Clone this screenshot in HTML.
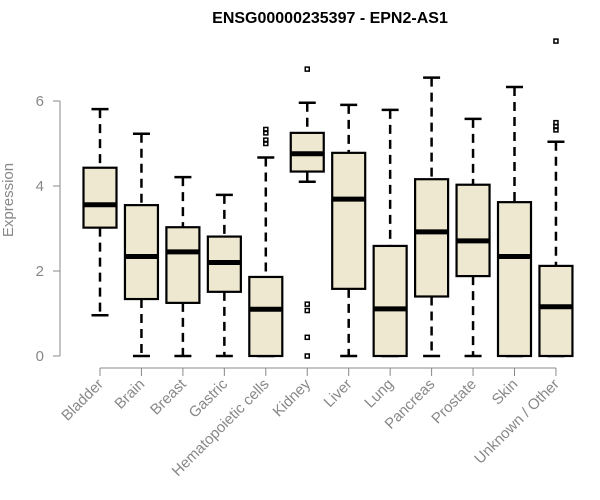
<!DOCTYPE html>
<html><head><meta charset="utf-8"><style>
body{margin:0;background:#fff}
svg{display:block;font-family:"Liberation Sans",Arial,sans-serif}
</style></head><body>
<svg id="chart" width="600" height="500">
<text x="330" y="23" text-anchor="middle" font-weight="bold" font-size="16">ENSG00000235397 - EPN2-AS1</text>
<text transform="translate(13,200) rotate(-90)" text-anchor="middle" font-size="15" fill="#888">Expression</text>
<g id="yaxis"></g>
<g id="xaxis"></g>
<g id="boxes"></g>
</svg>
<script>
const categories=["Bladder","Brain","Breast","Gastric","Hematopoietic cells","Kidney","Liver","Lung","Pancreas","Prostate","Skin","Unknown / Other"];
const whiskerLow=[0.96,0,0,0,0,4.1,0,0,0,0,0,0];
const q1=[3.02,1.34,1.25,1.51,0,4.34,1.58,0,1.4,1.88,0,0];
const medians=[3.56,2.34,2.45,2.2,1.1,4.76,3.69,1.11,2.92,2.71,2.34,1.16];
const q3=[4.43,3.55,3.03,2.81,1.86,5.25,4.78,2.59,4.16,4.03,3.62,2.12];
const whiskerHigh=[5.81,5.23,4.21,3.79,4.67,5.96,5.91,5.79,6.55,5.58,6.33,5.04];
const outliers=[[],[],[],[],[5.33,5.25,5.08,5.0],[6.75,1.22,1.07,0.44,0],[],[],[],[],[],[7.41,5.49,5.4,5.32]];
const yTicks=[0,2,4,6];
const NS="http://www.w3.org/2000/svg";
function y(v){return 356-v*42.5;}
function x(i){return 100+i*41.45;}
function mk(tag,attrs,parent){const e=document.createElementNS(NS,tag);for(const k in attrs)e.setAttribute(k,attrs[k]);parent.appendChild(e);return e;}
const ya=document.getElementById('yaxis'),xa=document.getElementById('xaxis'),bx=document.getElementById('boxes');
mk('line',{x1:60,x2:60,y1:y(6),y2:y(0),stroke:'#888'},ya);
yTicks.forEach(t=>{
 mk('line',{x1:53,x2:60,y1:y(t),y2:y(t),stroke:'#888'},ya);
 const tx=mk('text',{x:44,y:y(t)+5,'text-anchor':'end','font-size':15,fill:'#888'},ya);
 
 
 tx.textContent=t;
});
mk('line',{x1:x(0),x2:x(categories.length-1),y1:368,y2:368,stroke:'#888'},xa);
categories.forEach((c,i)=>{
 mk('line',{x1:x(i),x2:x(i),y1:368,y2:376,stroke:'#888'},xa);
 const tx=mk('text',{transform:`translate(${x(i)+4},385) rotate(-45)`,'text-anchor':'end','font-size':15,fill:'#888'},xa);
 
 
 tx.textContent=c;
 const g=mk('g',{},bx);
 
 
 const cx=x(i),hw=16.5,cw=8.5;
 mk('line',{x1:cx,x2:cx,y1:y(whiskerHigh[i]),y2:y(q3[i]),stroke:'#000','stroke-width':2.5,'stroke-dasharray':'9,6'},g);
 mk('line',{x1:cx,x2:cx,y1:y(q1[i]),y2:y(whiskerLow[i]),stroke:'#000','stroke-width':2.5,'stroke-dasharray':'9,6'},g);
 mk('line',{x1:cx-cw,x2:cx+cw,y1:y(whiskerHigh[i]),y2:y(whiskerHigh[i]),stroke:'#000','stroke-width':2.5},g);
 mk('line',{x1:cx-cw,x2:cx+cw,y1:y(whiskerLow[i]),y2:y(whiskerLow[i]),stroke:'#000','stroke-width':2.5},g);
 mk('rect',{x:cx-hw,y:y(q3[i]),width:2*hw,height:Math.max(0,y(q1[i])-y(q3[i])),fill:'#ede8cf',stroke:'#000','stroke-width':2.2},g);
 mk('line',{x1:cx-hw,x2:cx+hw,y1:y(medians[i]),y2:y(medians[i]),stroke:'#000','stroke-width':5},g);
 outliers[i].forEach(o=>{
  const p=mk('rect',{x:cx-2,y:y(o)-2,width:4,height:4,fill:'none',stroke:'#000','stroke-width':1.5},g);
  
  
 });
});
</script>
</body></html>
